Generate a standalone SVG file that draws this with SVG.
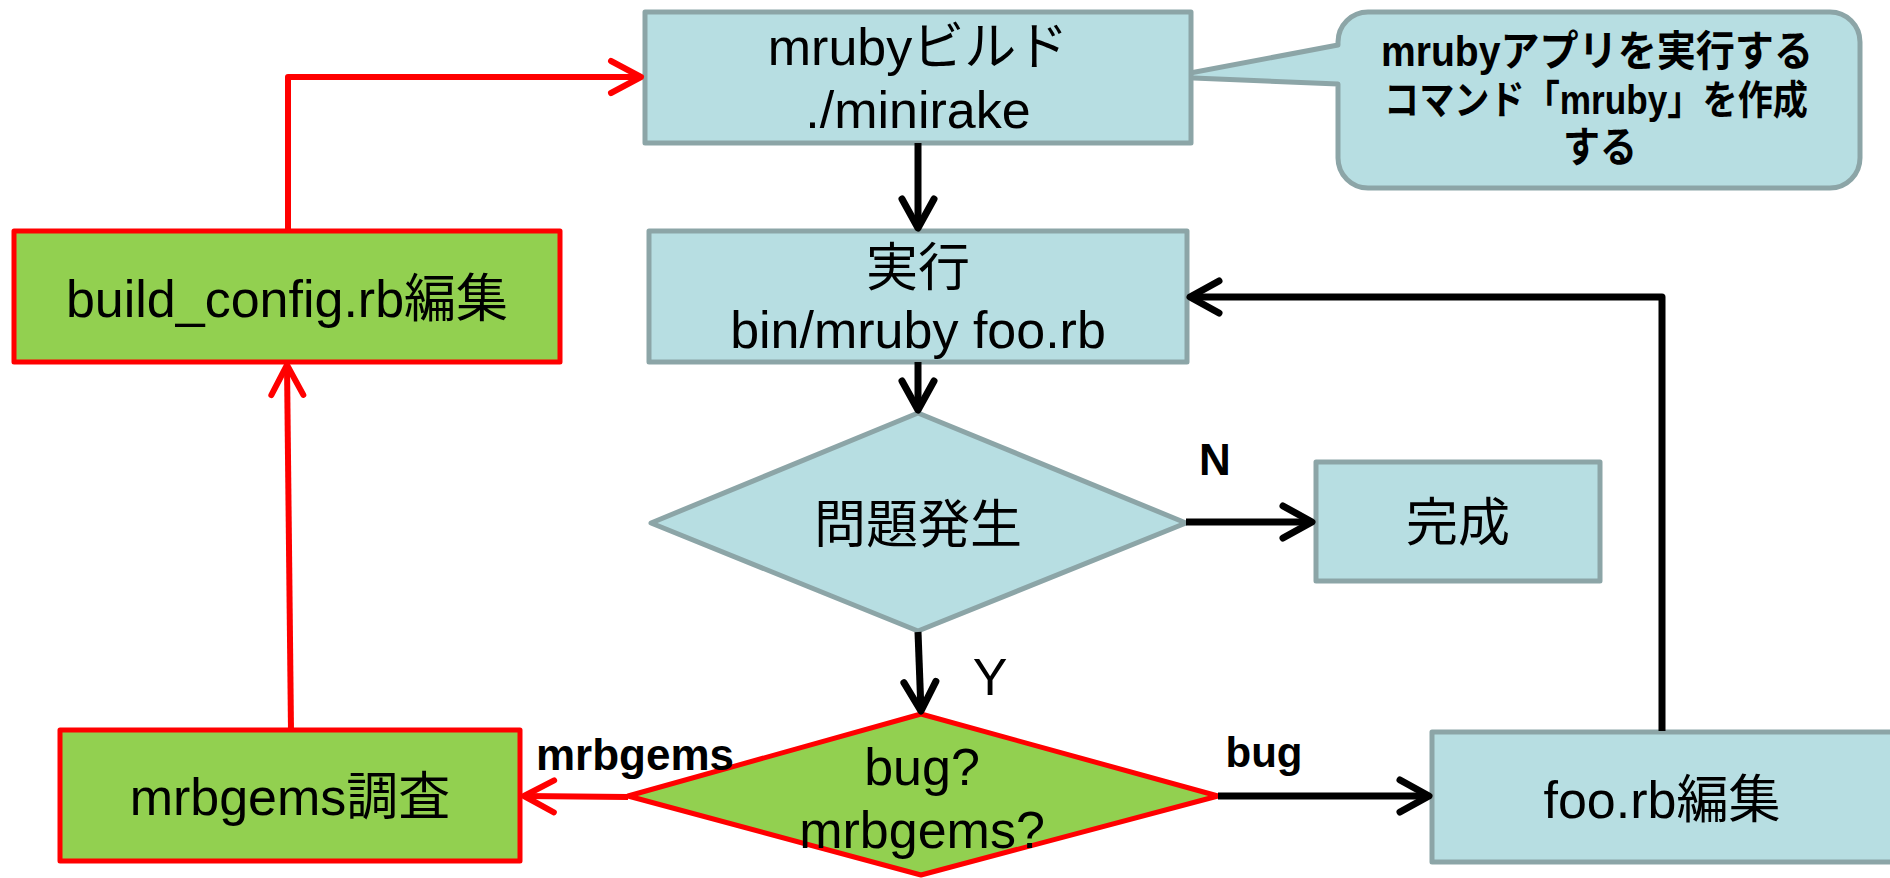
<svg xmlns="http://www.w3.org/2000/svg" width="1890" height="878" viewBox="0 0 1890 878">
<style>
.blue{fill:#B7DEE2;stroke:#8CA5A7;stroke-width:5;stroke-linejoin:round}
.green{fill:#92D050;stroke:#FF0000;stroke-width:5;stroke-linejoin:round}
.t{font-family:"Liberation Sans","Noto Sans CJK JP",sans-serif;font-size:52px;fill:#000;text-anchor:middle}
.b{font-family:"Liberation Sans","Noto Sans CJK JP",sans-serif;font-weight:bold;fill:#000;text-anchor:middle}
.k{fill:none;stroke:#000;stroke-width:7;stroke-linejoin:round}
.r{fill:none;stroke:#FF0000;stroke-width:6;stroke-linejoin:round}
</style>
<defs>
<marker id="ak" markerUnits="userSpaceOnUse" viewBox="-40 -25 50 50" markerWidth="50" markerHeight="50" refX="0" refY="0" orient="auto">
<path d="M-29,-16 L0,0 L-29,16" fill="none" stroke="#000" stroke-width="7" stroke-linecap="round" stroke-linejoin="round"/>
</marker>
<marker id="ar" markerUnits="userSpaceOnUse" viewBox="-40 -25 50 50" markerWidth="50" markerHeight="50" refX="0" refY="0" orient="auto">
<path d="M-30,-16 L0,0 L-30,16" fill="none" stroke="#FF0000" stroke-width="6" stroke-linecap="round" stroke-linejoin="round"/>
</marker>
</defs>
<g id="callout">
<path class="blue" d="M1338,45 L1169,77 L1338,84 L1338,158 A30,30 0 0 0 1368,188 L1830,188 A30,30 0 0 0 1860,158 L1860,42 A30,30 0 0 0 1830,12 L1368,12 A30,30 0 0 0 1338,42 Z"/>
<text class="b" font-size="42" x="1597" y="66" textLength="432" lengthAdjust="spacingAndGlyphs">mrubyアプリを実行する</text>
<text class="b" font-size="40" x="1596" y="114" textLength="424" lengthAdjust="spacingAndGlyphs">コマンド「mruby」を作成</text>
<text class="b" font-size="42" x="1600" y="162" textLength="74" lengthAdjust="spacingAndGlyphs">する</text>
</g>
<g id="build">
<rect class="blue" x="645" y="12" width="546" height="131"/>
<text class="t" x="918" y="65">mrubyビルド</text>
<text class="t" x="918" y="128">./minirake</text>
</g>
<g id="run">
<rect class="blue" x="649" y="231" width="538" height="131"/>
<text class="t" x="918" y="286">実行</text>
<text class="t" x="918" y="348">bin/mruby foo.rb</text>
</g>
<g id="config">
<rect class="green" x="14" y="231" width="546" height="131"/>
<text class="t" x="287" y="317">build_config.rb編集</text>
</g>
<g id="problem">
<polygon class="blue" points="918,413 1186,523 918,631 651,523"/>
<text class="t" x="918" y="543">問題発生</text>
</g>
<g id="done">
<rect class="blue" x="1316" y="462" width="284" height="119"/>
<text class="t" x="1458" y="541">完成</text>
</g>
<g id="bugq">
<polygon class="green" points="921,714 1218,796 921,875 628,796"/>
<text class="t" x="922" y="785">bug?</text>
<text class="t" x="922" y="848">mrbgems?</text>
</g>
<g id="mrbgems">
<rect class="green" x="60" y="730" width="460" height="131"/>
<text class="t" x="290" y="815">mrbgems調査</text>
</g>
<g id="foo">
<rect class="blue" x="1432" y="732" width="470" height="130"/>
<text class="t" x="1662" y="818">foo.rb編集</text>
</g>
<g id="connectors">
<polyline class="r" points="288,230 288,77 641,77" marker-end="url(#ar)"/>
<line class="k" x1="918" y1="143" x2="918" y2="228" marker-end="url(#ak)"/>
<line class="k" x1="918" y1="362" x2="918" y2="410" marker-end="url(#ak)"/>
<line class="k" x1="1186" y1="522" x2="1312" y2="522" marker-end="url(#ak)"/>
<line class="k" x1="918" y1="632" x2="921" y2="711" marker-end="url(#ak)"/>
<line class="r" x1="628" y1="797" x2="524" y2="796" marker-end="url(#ar)"/>
<line class="k" x1="1218" y1="796" x2="1429" y2="796" marker-end="url(#ak)"/>
<polyline class="k" points="1662,731 1662,297 1190,297" marker-end="url(#ak)"/>
<line class="r" x1="291" y1="730" x2="287" y2="365" marker-end="url(#ar)"/>
</g>
<g id="labels">
<text class="b" font-size="44" x="1215" y="475">N</text>
<text class="t" font-size="48" x="990" y="695">Y</text>
<text class="b" font-size="44" x="635" y="770">mrbgems</text>
<text class="b" font-size="42" x="1264" y="767">bug</text>
</g>
</svg>
